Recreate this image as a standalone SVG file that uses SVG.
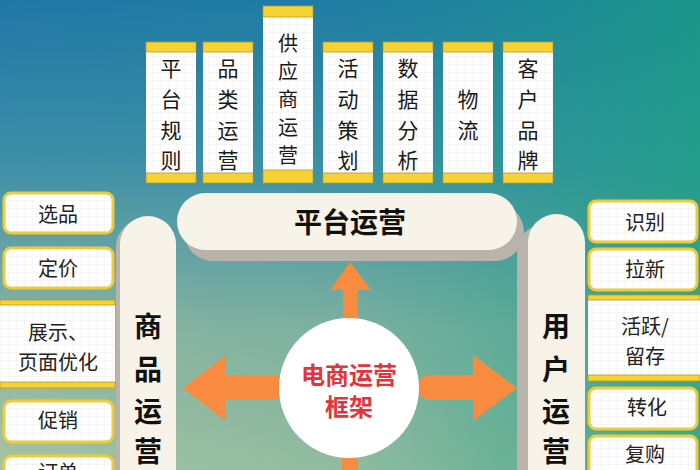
<svg xmlns="http://www.w3.org/2000/svg" width="700" height="470" viewBox="0 0 700 470">
<defs>
<linearGradient id="bgv" x1="0" y1="0" x2="0" y2="1">
<stop offset="0" stop-color="#1F77A6"/>
<stop offset="0.35" stop-color="#3F8FA8"/>
<stop offset="0.7" stop-color="#8DB5A2"/>
<stop offset="1" stop-color="#A5C2A2"/>
</linearGradient>
<linearGradient id="bgh" x1="0" y1="0" x2="1" y2="0">
<stop offset="0" stop-color="#1E9A8E" stop-opacity="0"/>
<stop offset="0.5" stop-color="#1E9A8E" stop-opacity="0.15"/>
<stop offset="1" stop-color="#1AA080" stop-opacity="0.75"/>
</linearGradient>
<pattern id="grid" width="8" height="8" patternUnits="userSpaceOnUse">
<rect width="8" height="8" fill="#FFFFFF"/>
<path d="M8 0H0V8" fill="none" stroke="#E2E2E2" stroke-width="0.6"/>
</pattern>
<style>
.col{fill:url(#grid)}
.bar{fill:#F6D232;stroke:#B8962A;stroke-width:0.8}
.ct{font-family:"Noto Sans CJK SC","Noto Sans",sans-serif;font-size:21px;fill:#1A1A1A;text-anchor:middle}
.ct5{font-family:"Noto Sans CJK SC","Noto Sans",sans-serif;font-size:20px;fill:#1A1A1A;text-anchor:middle}
.item{fill:url(#grid);stroke:#EFCB3C;stroke-width:3}
.it{font-family:"Noto Sans CJK SC","Noto Sans",sans-serif;font-size:20px;fill:#222;text-anchor:middle}
.pil{fill:#F7F3E8}
.shadow{fill:#B9B3AC}
.pt{font-family:"Noto Sans CJK SC","Noto Sans",sans-serif;font-size:28px;font-weight:bold;fill:#111;text-anchor:middle}
.arrow{fill:#F98B40}
</style>
</defs>
<rect width="700" height="470" fill="url(#bgv)"/>
<rect width="700" height="470" fill="url(#bgh)"/>

<g id="top-columns">
<g id="col-1">
<rect class="col" x="146" y="52" width="50" height="121"/>
<rect class="bar" x="146" y="42" width="50" height="10"/>
<rect class="bar" x="146" y="173" width="50" height="10"/>
<text class="ct" x="171" y="76">平</text><text class="ct" x="171" y="107">台</text><text class="ct" x="171" y="138">规</text><text class="ct" x="171" y="168">则</text>
</g>
<g id="col-2">
<rect class="col" x="203" y="52" width="50" height="121"/>
<rect class="bar" x="203" y="42" width="50" height="10"/>
<rect class="bar" x="203" y="173" width="50" height="10"/>
<text class="ct" x="228" y="76">品</text><text class="ct" x="228" y="107">类</text><text class="ct" x="228" y="138">运</text><text class="ct" x="228" y="168">营</text>
</g>
<g id="col-3">
<rect class="col" x="263" y="17" width="50" height="153"/>
<rect class="bar" x="263" y="6" width="50" height="11"/>
<rect class="bar" x="263" y="170" width="50" height="13"/>
<text class="ct5" x="288" y="51">供</text><text class="ct5" x="288" y="79">应</text><text class="ct5" x="288" y="107">商</text><text class="ct5" x="288" y="135">运</text><text class="ct5" x="288" y="163">营</text>
</g>
<g id="col-4">
<rect class="col" x="323" y="52" width="50" height="121"/>
<rect class="bar" x="323" y="42" width="50" height="10"/>
<rect class="bar" x="323" y="173" width="50" height="10"/>
<text class="ct" x="348" y="76">活</text><text class="ct" x="348" y="107">动</text><text class="ct" x="348" y="138">策</text><text class="ct" x="348" y="168">划</text>
</g>
<g id="col-5">
<rect class="col" x="383" y="52" width="50" height="121"/>
<rect class="bar" x="383" y="42" width="50" height="10"/>
<rect class="bar" x="383" y="173" width="50" height="10"/>
<text class="ct" x="408" y="76">数</text><text class="ct" x="408" y="107">据</text><text class="ct" x="408" y="138">分</text><text class="ct" x="408" y="168">析</text>
</g>
<g id="col-6">
<rect class="col" x="443" y="52" width="50" height="121"/>
<rect class="bar" x="443" y="42" width="50" height="10"/>
<rect class="bar" x="443" y="173" width="50" height="10"/>
<text class="ct" x="468" y="107">物</text><text class="ct" x="468" y="138">流</text>
</g>
<g id="col-7">
<rect class="col" x="503" y="52" width="50" height="121"/>
<rect class="bar" x="503" y="42" width="50" height="10"/>
<rect class="bar" x="503" y="173" width="50" height="10"/>
<text class="ct" x="528" y="76">客</text><text class="ct" x="528" y="107">户</text><text class="ct" x="528" y="138">品</text><text class="ct" x="528" y="168">牌</text>
</g>
</g>

<g id="connectors">
<path class="arrow" d="M350 262 L371 290 L358 290 L358 320 L343 320 L343 290 L330 290 Z"/>
<path class="arrow" d="M183 388 L226 355 L226 375 L272 375 A12.5 12.5 0 0 1 272 400 L226 400 L226 421 Z"/>
<path class="arrow" d="M517 388 L473 355 L473 375 L430 375 A12.5 12.5 0 0 0 430 400 L473 400 L473 421 Z"/>
<rect class="arrow" x="342" y="450" width="16" height="30" rx="8"/>
</g>

<g id="platform-ops">
<rect class="shadow" x="184" y="203" width="340" height="58" rx="29"/>
<rect class="pil" x="177" y="193" width="340" height="57" rx="28.5"/>
<text class="pt" x="350" y="233" font-size="27">平台运营</text>
</g>

<g id="product-ops">
<rect class="shadow" x="116" y="219" width="56" height="280" rx="28"/>
<rect class="pil" x="120" y="216" width="56" height="290" rx="28"/>
<text class="pt" x="148" y="337">商</text><text class="pt" x="148" y="380">品</text><text class="pt" x="148" y="422">运</text><text class="pt" x="148" y="462">营</text>
</g>

<g id="user-ops">
<rect class="shadow" x="517" y="224" width="60" height="280" rx="28"/>
<rect class="pil" x="528" y="214" width="57" height="290" rx="28.5"/>
<text class="pt" x="556" y="337">用</text><text class="pt" x="556" y="380">户</text><text class="pt" x="556" y="422">运</text><text class="pt" x="556" y="462">营</text>
</g>

<g id="center">
<circle cx="349" cy="388" r="70" fill="#FFFFFF"/>
<text x="349" y="384" font-family="Noto Sans CJK SC, Noto Sans, sans-serif" font-size="24" font-weight="bold" fill="#E5333B" text-anchor="middle">电商运营</text>
<text x="349" y="416" font-family="Noto Sans CJK SC, Noto Sans, sans-serif" font-size="24" font-weight="bold" fill="#E5333B" text-anchor="middle">框架</text>
</g>

<g id="left-items">
<g id="item-xuanpin"><rect class="item" x="4" y="193" width="109" height="40" rx="7"/><text class="it" x="58" y="222">选品</text></g>
<g id="item-dingjia"><rect class="item" x="4" y="248" width="109" height="40" rx="7"/><text class="it" x="58" y="276">定价</text></g>
<g id="item-zhanshi">
<rect class="col" x="0" y="305" width="115" height="77"/>
<rect class="bar" x="0" y="300" width="115" height="5"/>
<rect class="bar" x="0" y="382" width="115" height="6"/>
<text class="it" x="58" y="340">展示、</text><text class="it" x="58" y="370">页面优化</text>
</g>
<g id="item-cuxiao"><rect class="item" x="4" y="401" width="109" height="41" rx="7"/><text class="it" x="58" y="428">促销</text></g>
<g id="item-dingdan"><rect class="item" x="4" y="456" width="109" height="40" rx="7"/><text class="it" x="58" y="480">订单</text></g>
</g>

<g id="right-items">
<g id="item-shibie"><rect class="item" x="589" y="201" width="108" height="41" rx="7"/><text class="it" x="645" y="230">识别</text></g>
<g id="item-laxin"><rect class="item" x="589" y="249" width="108" height="41" rx="7"/><text class="it" x="645" y="277">拉新</text></g>
<g id="item-huoyue">
<rect class="col" x="588" y="300" width="112" height="75"/>
<rect class="bar" x="588" y="295" width="112" height="5"/>
<rect class="bar" x="588" y="375" width="112" height="6"/>
<text class="it" x="645" y="334">活跃/</text><text class="it" x="645" y="364">留存</text>
</g>
<g id="item-zhuanhua"><rect class="item" x="589" y="388" width="108" height="41" rx="7"/><text class="it" x="647" y="415">转化</text></g>
<g id="item-fugou"><rect class="item" x="589" y="436" width="108" height="40" rx="7"/><text class="it" x="645" y="462">复购</text></g>
</g>
</svg>
